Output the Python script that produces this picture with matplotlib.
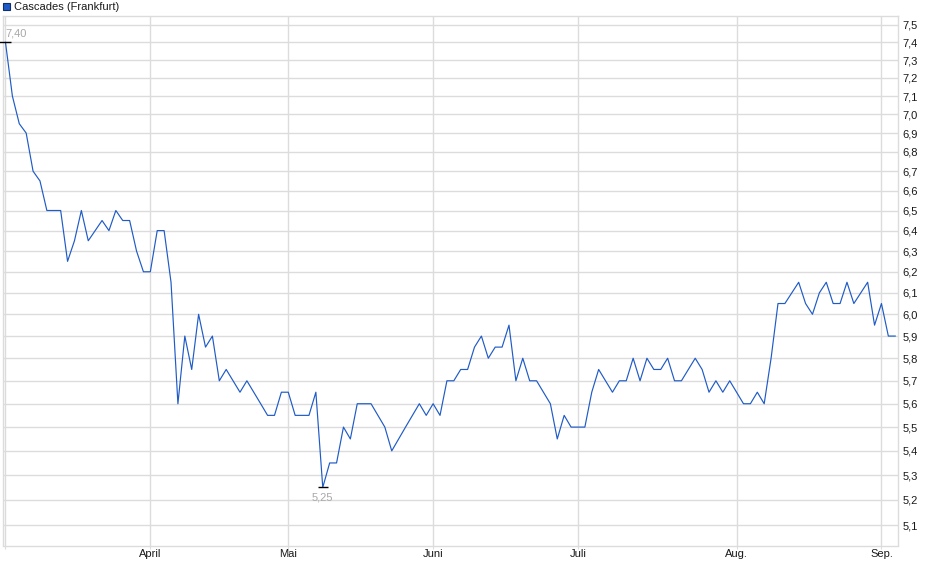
import numpy as np
import pandas as pd
import matplotlib
matplotlib.use("Agg")
import matplotlib.pyplot as plt
from matplotlib.ticker import FixedLocator, NullLocator, FuncFormatter
from matplotlib.patches import Rectangle

plt.rcParams['font.family'] = ['Liberation Sans', 'DejaVu Sans']

# ---- data ----
series_name = "Cascades (Frankfurt)"
start_date = "2025-03-03"
end_date = "2025-09-03"
holidays = ["2025-04-18", "2025-04-21", "2025-05-01"]
prices = [
    7.40, 7.10, 6.95, 6.90, 6.70, 6.65, 6.50, 6.50, 6.50, 6.25,
    6.35, 6.50, 6.35, 6.40, 6.45, 6.40, 6.50, 6.45, 6.45, 6.30,
    6.20, 6.20, 6.40, 6.40, 6.15, 5.60, 5.90, 5.75, 6.00, 5.85,
    5.90, 5.70, 5.75, 5.70, 5.65, 5.70, 5.65, 5.60, 5.55, 5.55,
    5.65, 5.65, 5.55, 5.55, 5.55, 5.65, 5.25, 5.35, 5.35, 5.50,
    5.45, 5.60, 5.60, 5.60, 5.55, 5.50, 5.40, 5.45, 5.50, 5.55,
    5.60, 5.55, 5.60, 5.55, 5.70, 5.70, 5.75, 5.75, 5.85, 5.90,
    5.80, 5.85, 5.85, 5.95, 5.70, 5.80, 5.70, 5.70, 5.65, 5.60,
    5.45, 5.55, 5.50, 5.50, 5.50, 5.65, 5.75, 5.70, 5.65, 5.70,
    5.70, 5.80, 5.70, 5.80, 5.75, 5.75, 5.80, 5.70, 5.70, 5.75,
    5.80, 5.75, 5.65, 5.70, 5.65, 5.70, 5.65, 5.60, 5.60, 5.65,
    5.60, 5.80, 6.05, 6.05, 6.10, 6.15, 6.05, 6.00, 6.10, 6.15,
    6.05, 6.05, 6.15, 6.05, 6.10, 6.15, 5.95, 6.05, 5.90, 5.90,
]
month_names = {3: "", 4: "April", 5: "Mai", 6: "Juni", 7: "Juli", 8: "Aug.", 9: "Sep."}
y_ticks = [5.1, 5.2, 5.3, 5.4, 5.5, 5.6, 5.7, 5.8, 5.9, 6.0, 6.1, 6.2, 6.3,
           6.4, 6.5, 6.6, 6.7, 6.8, 6.9, 7.0, 7.1, 7.2, 7.3, 7.4, 7.5]

dates = pd.bdate_range(start_date, end_date)
dates = dates[~dates.isin(pd.to_datetime(holidays))]
prices = np.array(prices)
idx = np.arange(len(prices))

# month starts
months = dates.month
month_pos = [i for i in range(len(dates)) if i == 0 or months[i] != months[i - 1]]
month_lab = [month_names[months[i]] for i in month_pos]

# ---- figure ----
fig = plt.figure(figsize=(9.40, 5.79), dpi=100)
ax = fig.add_axes([3 / 940, 1 - 545.5 / 579, (898 - 3) / 940, (545.5 - 16) / 579])

line_color = "#1f5bc6"
grid_color = "#dcdcdc"

ax.plot(idx, prices, color=line_color, lw=0.85, zorder=3)

ax.set_yscale("log")
ax.set_ylim(5.02, 7.552)
ax.set_xlim(-0.36, 129.4)

ax.yaxis.set_major_locator(FixedLocator(y_ticks))
ax.yaxis.set_minor_locator(NullLocator())
ax.yaxis.set_major_formatter(FuncFormatter(lambda v, p: f"{v:.1f}".replace(".", ",")))
ax.yaxis.tick_right()
ax.tick_params(axis="y", length=0, pad=3, labelsize=8, colors="#1a1a1a")

ax.xaxis.set_major_locator(FixedLocator(month_pos))
ax.xaxis.set_minor_locator(NullLocator())
ax.set_xticklabels(month_lab)
ax.tick_params(axis="x", length=2, width=0.8, pad=0.5, labelsize=8, labelcolor="#1a1a1a", color=grid_color)

ax.grid(True, which="major", color=grid_color, lw=1.0, zorder=0)
for s in ax.spines.values():
    s.set_color(grid_color)
    s.set_linewidth(1.0)

# max / min annotations
imax = int(np.argmax(prices))
imin = int(np.argmin(prices))
ax.plot([imax], [prices[imax]], marker="_", ms=9, mew=1.0, color="black", clip_on=False, zorder=4)
ax.plot([imin], [prices[imin]], marker="_", ms=7, mew=1.0, color="black", clip_on=False, zorder=4)
ax.annotate(f"{prices[imax]:.2f}".replace(".", ","), (imax, prices[imax]),
            xytext=(0, 6.5), textcoords="offset points", ha="left", va="center",
            fontsize=8, color="#a8a8a8")
ax.annotate(f"{prices[imin]:.2f}".replace(".", ","), (imin, prices[imin]),
            xytext=(0, -7.5), textcoords="offset points", ha="center", va="center",
            fontsize=8, color="#a8a8a8")

# legend
fig.patches.append(Rectangle((3 / 940, 1 - 10 / 579), 7 / 940, 7 / 579, transform=fig.transFigure,
                             facecolor=line_color, edgecolor="#0d2f6e", lw=0.8))
fig.text(14.5 / 940, 1 - 6.5 / 579, series_name, ha="left", va="center", fontsize=8.0, color="#1a1a1a")

fig.savefig("out.png", dpi=100)
